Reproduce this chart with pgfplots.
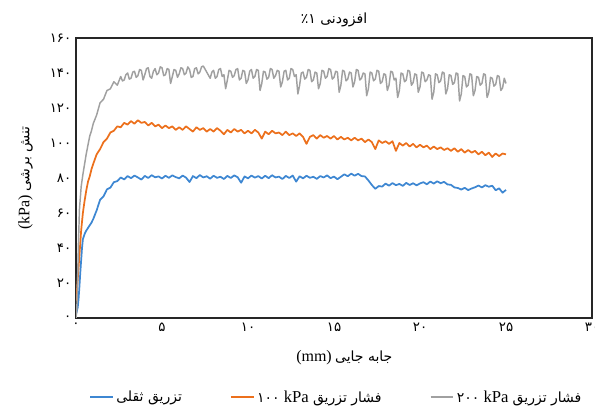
\documentclass[border=0pt]{standalone}
\usepackage{fontspec}
\setmainfont{Liberation Serif}
\newfontfamily\arabicfont[Script=Arabic]{DejaVu Sans}
\TeXXeTstate=1
\usepackage{pgfplots}
\pgfplotsset{compat=1.18}

\definecolor{cblue}{RGB}{62,135,210}
\definecolor{corange}{RGB}{236,112,28}
\definecolor{cgray}{RGB}{160,160,160}
\newcommand{\fa}{\arabicfont\fontsize{10.5}{12}\selectfont}

\begin{document}
\begin{tikzpicture}
\begin{axis}[
    scale only axis,
    width=387pt, height=210pt,
    xmin=0, xmax=30, ymin=0, ymax=160,
    xtick={0,5,...,30},
    ytick={0,20,...,160},
    xticklabels={۰,۵,۱۰,۱۵,۲۰,۲۵,۳۰},
    yticklabels={۰,۲۰,۴۰,۶۰,۸۰,۱۰۰,۱۲۰,۱۴۰,۱۶۰},
    ticklabel style={font=\arabicfont\fontsize{10}{11}\selectfont},
    major tick length=0pt,
    axis line style={line width=0.9pt, black!85},
    title={\fa\beginR افزودنی \beginL۱\endL٪\endR},
    title style={yshift=-1pt},
    xlabel={\beginR{\fa جابه جایی} \beginL{\fontsize{12}{13}\selectfont(mm)}\endL\endR},
    xlabel style={at={(axis description cs:0.52,-0.143)}, anchor=center},
    ylabel={\beginR{\fa تنش برشی} \beginL{\fontsize{12}{13}\selectfont(kPa)}\endL\endR},
    ylabel style={at={(axis description cs:-0.098,0.5)}, anchor=center},
    legend columns=3,
    legend style={draw=none, at={(0.505,-0.283)}, anchor=center,
        font=\fontsize{12.5}{13}\selectfont,
        /tikz/every even column/.append style={column sep=34pt}},
    legend image post style={line width=1.3pt},
    every axis plot/.append style={line join=round},
]
% gravity grouting
\addplot[cblue, line width=1.3pt] coordinates {
(0,2) (0.05,4) (0.1,6) (0.15,11) (0.2,18) (0.25,26) (0.3,33) (0.35,40) (0.4,45) (0.5,48) (0.6,50) (0.7,51.5) (0.8,53) (0.9,54.5)
(1.0,56.5) (1.2,61.5) (1.4,67.5) (1.6,69.5) (1.8,73.5) (2.0,74.5) (2.2,77.6) (2.4,78.2) (2.6,80.3) (2.8,79.2) (3.0,81.1) (3.2,79.9)
(3.4,81.4) (3.6,80.3) (3.8,79.1) (4.0,81.2) (4.2,80.0) (4.4,81.6) (4.6,80.4) (4.8,80.9) (5.0,79.7) (5.2,81.3) (5.4,80.1) (5.6,81.5)
(5.8,80.5) (6.0,79.8) (6.2,81.4) (6.4,80.2) (6.6,77.7) (6.8,81.1) (7.0,79.9) (7.2,81.7) (7.4,80.3) (7.6,81.0) (7.8,79.6) (8.0,81.3)
(8.2,80.1) (8.4,80.7) (8.6,79.4) (8.8,81.2) (9.0,80.0) (9.2,81.5) (9.4,80.4) (9.6,77.3) (9.8,80.9) (10.0,79.8) (10.2,81.4) (10.4,80.2)
(10.6,81.1) (10.8,79.7) (11.0,81.3) (11.2,79.9) (11.4,81.6) (11.6,80.3) (11.8,80.8) (12.0,79.4) (12.2,81.2) (12.4,80.0) (12.6,81.4)
(12.8,77.9) (13.0,81.0) (13.2,79.8) (13.4,81.3) (13.6,80.1) (13.8,80.7) (14.0,79.5) (14.2,81.1) (14.4,80.3) (14.6,81.5) (14.8,79.9)
(15.0,80.8) (15.2,79.3) (15.4,80.7) (15.6,82.1) (15.8,81.0) (16.0,82.5) (16.2,81.3) (16.4,82.4) (16.6,81.1) (16.8,80.9) (17.0,78.6)
(17.2,76.0) (17.4,73.8) (17.6,75.4) (17.8,75.1) (18.0,76.8) (18.2,75.6) (18.4,77.1) (18.6,75.9) (18.8,76.6) (19.0,75.5) (19.2,77.2)
(19.4,76.0) (19.6,77.0) (19.8,75.8) (20.0,76.9) (20.2,77.6) (20.4,76.4) (20.6,78.0) (20.8,76.8) (21.0,78.1) (21.2,77.0) (21.4,77.8)
(21.6,76.3) (21.8,76.1) (22.0,74.6) (22.2,74.3) (22.4,73.4) (22.6,74.4) (22.8,73.1) (23.0,74.0) (23.2,74.7) (23.4,75.7) (23.6,74.6)
(23.8,75.9) (24.0,75.0) (24.2,75.6) (24.4,73.0) (24.6,74.1) (24.8,71.6) (25.0,73.2)
};
\addlegendentry{\beginR{\fa تزریق ثقلی}\endR}
% 100 kPa
\addplot[corange, line width=1.3pt] coordinates {
(0,10) (0.05,15) (0.1,22) (0.15,29) (0.2,36) (0.25,43) (0.3,50) (0.35,55) (0.4,60) (0.5,67) (0.6,73) (0.7,78) (0.8,81) (0.9,85)
(1.0,88) (1.2,93.5) (1.4,96.5) (1.6,100.5) (1.8,102.5) (2.0,106) (2.2,107) (2.4,109.5) (2.6,109) (2.8,111.5) (3.0,110.5) (3.2,112.5)
(3.4,111) (3.6,113) (3.8,111.5) (4.0,112) (4.2,110) (4.4,111.5) (4.6,109.5) (4.8,110.5) (5.0,108.5) (5.2,110) (5.4,108.5) (5.6,109.5)
(5.8,107.5) (6.0,109) (6.2,107.5) (6.4,109.5) (6.6,108) (6.8,106.5) (7.0,109) (7.2,107.5) (7.4,108.5) (7.6,106.5) (7.8,108) (8.0,106.5)
(8.2,108.5) (8.4,107) (8.6,105) (8.8,107.5) (9.0,106) (9.2,108) (9.4,106.5) (9.6,107.5) (9.8,105.5) (10.0,107) (10.2,105.5) (10.4,107.5)
(10.6,106) (10.8,102.5) (11.0,106.5) (11.2,105) (11.4,107) (11.6,105.5) (11.8,106) (12.0,104.5) (12.2,106.5) (12.4,104.5) (12.6,105.5)
(12.8,104) (13.0,105.5) (13.2,103.5) (13.4,99.5) (13.6,103.5) (13.8,104.5) (14.0,102.5) (14.2,104.5) (14.4,103) (14.6,104) (14.8,102.5)
(15.0,104) (15.2,102) (15.4,103.5) (15.6,102) (15.8,103) (16.0,101.5) (16.2,103) (16.4,101.5) (16.6,102.5) (16.8,100.5) (17.0,102)
(17.2,100.5) (17.4,96.5) (17.6,101.5) (17.8,100) (18.0,101) (18.2,99.5) (18.4,101) (18.6,95.5) (18.8,100) (19.0,98.5) (19.2,100)
(19.4,98) (19.6,99.5) (19.8,97.5) (20.0,99) (20.2,97.5) (20.4,98.5) (20.6,96.5) (20.8,98) (21.0,96.5) (21.2,97.5) (21.4,96) (21.6,97)
(21.8,95.5) (22.0,97) (22.2,95) (22.4,96.5) (22.6,94.5) (22.8,96) (23.0,94.5) (23.2,95.5) (23.4,93.5) (23.6,95) (23.8,93) (24.0,94.5)
(24.2,92) (24.4,94) (24.6,92.5) (24.8,94) (25.0,93.5)
};
\addlegendentry{\beginR{\fa فشار تزریق} \beginL kPa\endL{} {\fa\beginL۱۰۰\endL}\endR}
% 200 kPa
\addplot[cgray, line width=1.1pt] coordinates {
(0,0) (0.05,5) (0.1,25) (0.15,45) (0.2,62) (0.3,75) (0.4,82) (0.5,88) (0.6,94) (0.7,99) (0.8,104) (0.9,107)
(1.0,111) (1.2,116) (1.4,123) (1.6,125) (1.8,130) (2.0,131) (2.2,135) (2.4,133)
(2.6,138) (2.7,135.5) (2.8,136) (2.9,139) (3.0,140) (3.1,136.5) (3.2,137) (3.3,140.5) (3.4,141) (3.5,137.5) (3.6,138.5) (3.7,142)
(3.8,141.5) (3.9,136) (4.0,139) (4.1,142.5) (4.2,143) (4.3,138) (4.4,137) (4.5,141) (4.6,142.5) (4.7,139) (4.8,140) (4.9,143.5)
(5.0,143) (5.1,138.5) (5.2,139) (5.3,142.5) (5.4,142) (5.5,134) (5.6,138) (5.7,142) (5.8,141.5) (5.9,137.5) (6.0,139.5) (6.1,143)
(6.2,142.5) (6.3,139) (6.4,140) (6.5,143.5) (6.6,142) (6.7,137.5) (6.8,138) (6.9,142.5) (7.0,143) (7.1,139.5) (7.2,140.5) (7.3,143.5)
(7.4,144) (7.8,137) (7.9,140.5) (8.0,141.5) (8.1,137) (8.2,138) (8.3,142) (8.4,142.5) (8.5,138) (8.6,139) (8.7,131) (8.8,136)
(8.9,141.5) (9.0,141) (9.1,137.5) (9.2,138.5) (9.3,142) (9.4,142.5) (9.5,136) (9.6,137) (9.7,141.5) (9.8,141) (9.9,134) (10.0,136)
(10.1,141) (10.2,142) (10.3,137) (10.4,138) (10.5,142) (10.6,141.5) (10.7,130) (10.8,134) (10.9,141) (11.0,140.5) (11.1,136.5)
(11.2,137.5) (11.3,142.5) (11.4,142) (11.5,137) (11.6,138.5) (11.7,141.5) (11.8,141) (11.9,132) (12.0,135) (12.1,141) (12.2,141.5)
(12.3,136) (12.4,137) (12.5,142.5) (12.6,142) (12.7,138) (12.8,139) (12.9,128) (13.0,133) (13.1,140) (13.2,140.5) (13.3,136.5)
(13.4,137.5) (13.5,142) (13.6,141.5) (13.7,135) (13.8,136) (13.9,140.5) (14.0,140) (14.1,131) (14.2,134) (14.3,141.5) (14.4,141)
(14.5,137) (14.6,138) (14.7,142.5) (14.8,142) (14.9,136.5) (15.0,137.5) (15.1,141) (15.2,140.5) (15.3,129) (15.4,133) (15.5,141.5)
(15.6,141) (15.7,135.5) (15.8,136.5) (15.9,140.5) (16.0,140) (16.1,132) (16.2,135) (16.3,142) (16.4,141.5) (16.5,136) (16.6,137)
(16.7,140) (16.8,139.5) (16.9,127) (17.0,131) (17.1,140.5) (17.2,140) (17.3,135.5) (17.4,136.5) (17.5,141.5) (17.6,141) (17.7,134)
(17.8,135) (17.9,139.5) (18.0,139) (18.1,130) (18.2,133) (18.3,141) (18.4,140.5) (18.5,136) (18.6,137) (18.7,126) (18.8,130)
(18.9,140) (19.0,139.5) (19.1,135) (19.2,136) (19.3,141.5) (19.4,141) (19.5,133) (19.6,134.5) (19.7,139.5) (19.8,139) (19.9,129)
(20.0,132) (20.1,140.5) (20.2,140) (20.3,135) (20.4,136) (20.5,139) (20.6,138.5) (20.7,125) (20.8,129) (20.9,139.5) (21.0,139)
(21.1,134.5) (21.2,135.5) (21.3,140.5) (21.4,140) (21.5,128) (21.6,131) (21.7,139) (21.8,138.5) (21.9,133.5) (22.0,134.5) (22.1,140)
(22.2,139.5) (22.3,124) (22.4,128) (22.5,138.5) (22.6,138) (22.7,132) (22.8,133) (22.9,139.5) (23.0,139) (23.1,127) (23.2,130)
(23.3,138) (23.4,137.5) (23.5,133) (23.6,134) (23.7,139.5) (23.8,139) (23.9,126) (24.0,129) (24.1,137.5) (24.2,137) (24.3,132.5)
(24.4,133.5) (24.5,138.5) (24.6,138) (24.7,130) (24.8,131.5) (24.9,137) (25.0,134)
};
\addlegendentry{\beginR{\fa فشار تزریق} \beginL kPa\endL{} {\fa\beginL۲۰۰\endL}\endR}
\end{axis}
\pgfresetboundingbox
\path (current axis.south west) ++(-57pt,-73.5pt) rectangle ++(446.25pt,312pt);
\end{tikzpicture}
\end{document}
